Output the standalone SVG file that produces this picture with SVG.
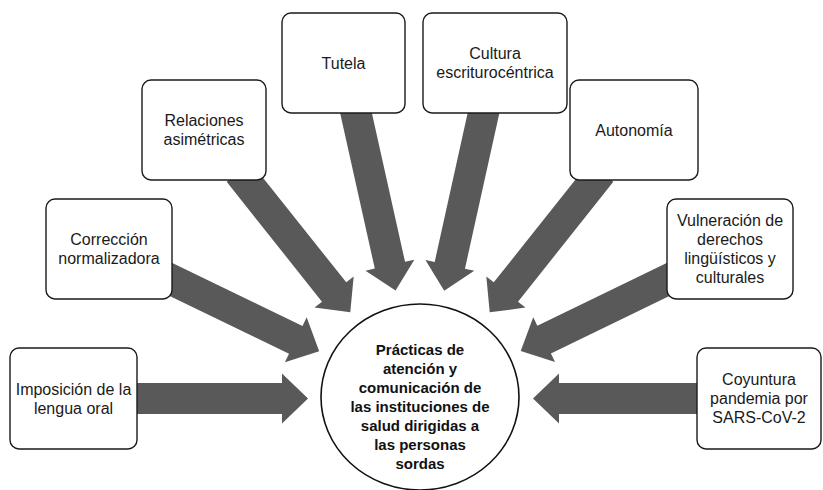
<svg xmlns="http://www.w3.org/2000/svg" width="823" height="490" viewBox="0 0 823 490">
<style>
.bg{fill:#ffffff}
.arrow{fill:#595959;stroke:none}
.box{fill:#ffffff;stroke:#1a1a1a;stroke-width:1.4}
.hub{fill:#ffffff;stroke:#111111;stroke-width:1.6}
.t{font-family:"Liberation Sans",Arial,sans-serif;font-size:16px;fill:#1a1a1a;text-anchor:middle}
.tb{font-family:"Liberation Sans",Arial,sans-serif;font-size:15px;font-weight:bold;fill:#111111;text-anchor:middle}
</style>
<rect class="bg" x="0" y="0" width="823" height="490"/>
<g id="connectors">
  <polygon class="arrow" points="127,383 282,383 282,373.5 308,398.5 282,423.5 282,414 127,414"/>
  <polygon class="arrow" points="707,383 559,383 559,373.5 533,398.5 559,423.5 559,414 707,414"/>
  <path class="arrow" transform="translate(163,275.6) rotate(25.82)" d="M0,-15.5 H147.5 V-25 L173.5,0 L147.5,25 V15.5 H0 Z"/>
  <path class="arrow" transform="translate(238.8,172.2) rotate(51.5)" d="M0,-15.5 H153.1 V-25 L179.1,0 L153.1,25 V15.5 H0 Z"/>
  <path class="arrow" transform="translate(353.8,103.2) rotate(77.43)" d="M0,-15.5 H166 V-25 L192,0 L166,25 V15.5 H0 Z"/>
  <path class="arrow" transform="translate(485.7,103.2) rotate(102.48)" d="M0,-15.5 H166 V-25 L192,0 L166,25 V15.5 H0 Z"/>
  <path class="arrow" transform="translate(601.2,172.2) rotate(128.5)" d="M0,-15.5 H153.1 V-25 L179.1,0 L153.1,25 V15.5 H0 Z"/>
  <path class="arrow" transform="translate(676,275.6) rotate(154.1)" d="M0,-15.5 H146.6 V-25 L172.6,0 L146.6,25 V15.5 H0 Z"/>
</g>
<g id="node-imposicion">
  <rect class="box" x="10" y="348" width="127" height="101" rx="9"/>
  <text class="t" x="73.5" y="394.5">Imposición de la</text>
  <text class="t" x="73.5" y="413.5">lengua oral</text>
</g>
<g id="node-correccion">
  <rect class="box" x="46" y="199" width="126" height="100" rx="9"/>
  <text class="t" x="109" y="245">Corrección</text>
  <text class="t" x="109" y="264">normalizadora</text>
</g>
<g id="node-relaciones">
  <rect class="box" x="142" y="80" width="124" height="100" rx="9"/>
  <text class="t" x="204" y="126">Relaciones</text>
  <text class="t" x="204" y="145">asimétricas</text>
</g>
<g id="node-tutela">
  <rect class="box" x="282" y="13" width="123" height="100" rx="9"/>
  <text class="t" x="343.5" y="68.5">Tutela</text>
</g>
<g id="node-cultura">
  <rect class="box" x="423" y="13" width="144" height="100" rx="9"/>
  <text class="t" x="495" y="59">Cultura</text>
  <text class="t" x="495" y="78">escriturocéntrica</text>
</g>
<g id="node-autonomia">
  <rect class="box" x="570" y="80" width="128" height="100" rx="9"/>
  <text class="t" x="634" y="135.5">Autonomía</text>
</g>
<g id="node-vulneracion">
  <rect class="box" x="667" y="199" width="126" height="100" rx="9"/>
  <text class="t" x="730" y="226">Vulneración de</text>
  <text class="t" x="730" y="245">derechos</text>
  <text class="t" x="730" y="264">lingüísticos y</text>
  <text class="t" x="730" y="283">culturales</text>
</g>
<g id="node-coyuntura">
  <rect class="box" x="697" y="348" width="124" height="101" rx="9"/>
  <text class="t" x="759" y="385">Coyuntura</text>
  <text class="t" x="759" y="404">pandemia por</text>
  <text class="t" x="759" y="423">SARS-CoV-2</text>
</g>
<g id="node-center">
  <ellipse class="hub" cx="420" cy="397" rx="99" ry="93"/>
  <text class="tb" x="420" y="355">Prácticas de</text>
  <text class="tb" x="420" y="374">atención y</text>
  <text class="tb" x="420" y="393">comunicación de</text>
  <text class="tb" x="420" y="412">las instituciones de</text>
  <text class="tb" x="420" y="431">salud dirigidas a</text>
  <text class="tb" x="420" y="450">las personas</text>
  <text class="tb" x="420" y="469">sordas</text>
</g>
</svg>
